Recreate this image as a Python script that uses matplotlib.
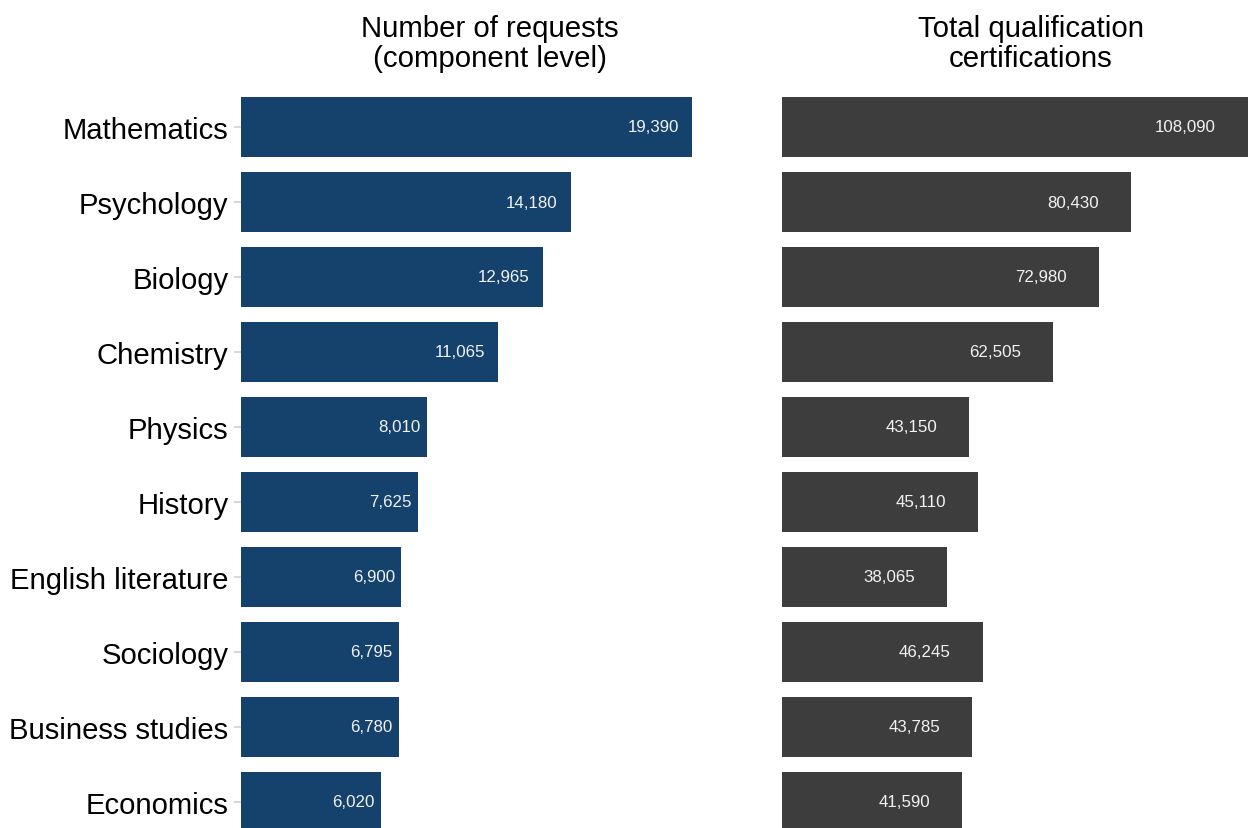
import matplotlib.pyplot as plt

plt.rcParams['font.family'] = ['Liberation Sans', 'DejaVu Sans']

subjects = ['Mathematics', 'Psychology', 'Biology', 'Chemistry', 'Physics',
            'History', 'English literature', 'Sociology', 'Business studies',
            'Economics']
requests = [19390, 14180, 12965, 11065, 8010, 7625, 6900, 6795, 6780, 6020]
certifications = [108090, 80430, 72980, 62505, 43150, 45110, 38065, 46245,
                  43785, 41590]

W, H = 1248, 829
fig = plt.figure(figsize=(W / 100, H / 100), dpi=100)


def panel_axes(x0, x1, y0=98, y1=833):
    return fig.add_axes([x0 / W, 1 - y1 / H, (x1 - x0) / W, (y1 - y0) / H])


ax1 = panel_axes(241, 739)
ax2 = panel_axes(782, 1279)

pos = list(range(len(subjects)))


def draw(ax, values, color, xmax, offsets, show_labels):
    ax.barh(pos, values, height=0.8, color=color)
    ax.set_xlim(0, xmax)
    ax.set_ylim(9.4, -0.4)
    for p, v in zip(pos, values):
        off = offsets[1] if v >= offsets[0] else offsets[2]
        ax.annotate(f'{v:,}', (v, p), xytext=(-off * 0.72, 0),
                    textcoords='offset points', ha='right', va='center',
                    color='#f2f2f2', fontsize=12.2)
    for s in ax.spines.values():
        s.set_visible(False)
    ax.set_xticks([])
    ax.set_yticks(pos)
    if show_labels:
        ax.set_yticklabels(subjects, fontsize=21.1)
        ax.tick_params(axis='y', length=5, width=1.5, color='#d9d9d9', pad=4)
    else:
        ax.set_yticklabels([])
        ax.tick_params(axis='y', length=0)


draw(ax1, requests, '#14426d', 19390 * 498 / 451, (10000, 13, 6.5), True)
draw(ax2, certifications, '#3d3d3d', 108090 * 497 / 469, (100000, 35, 32), False)

fig.text((241 + 739) / 2 / W, 1 - 44 / H, 'Number of requests\n(component level)',
         ha='center', va='center', fontsize=21.2, linespacing=1.1)
fig.text((782 + 1279) / 2 / W, 1 - 44 / H, 'Total qualification\ncertifications',
         ha='center', va='center', fontsize=21.2, linespacing=1.1)

fig.savefig('out.png', dpi=100)
